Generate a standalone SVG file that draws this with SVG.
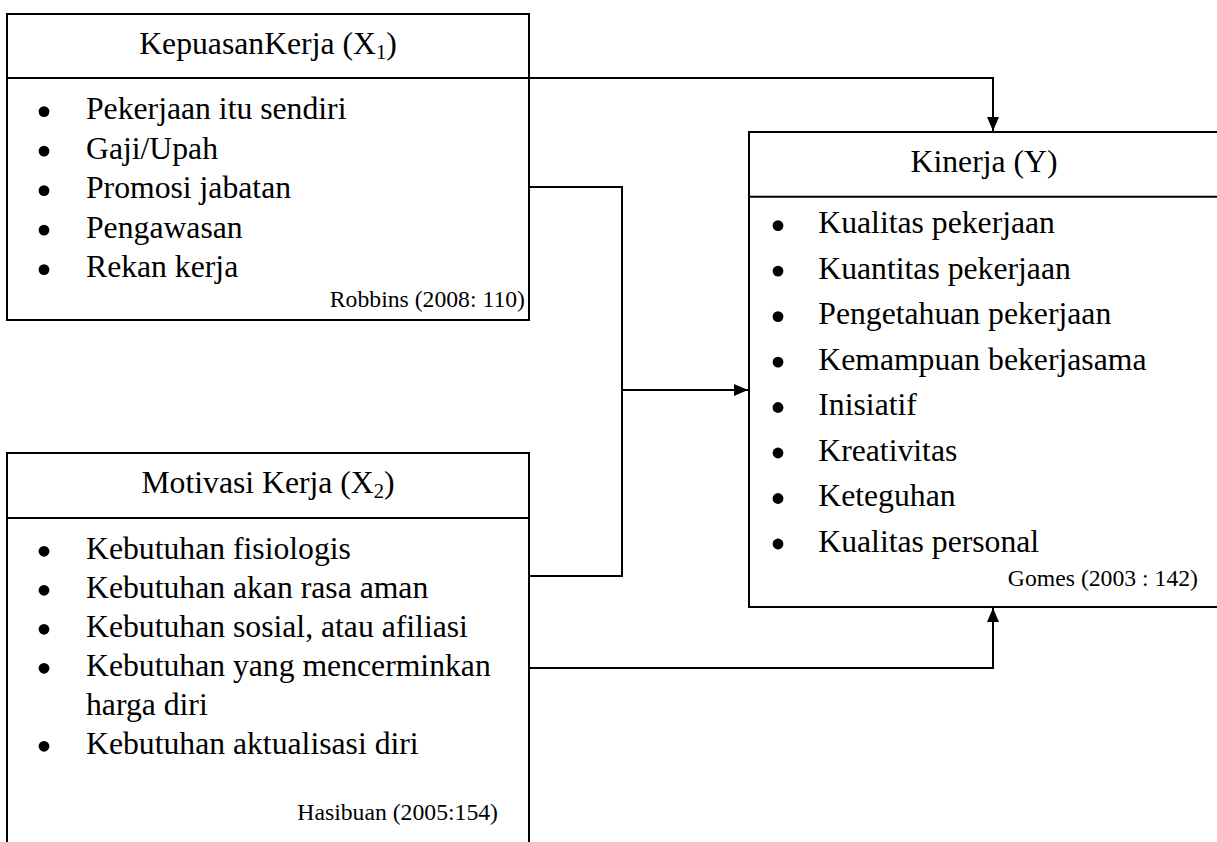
<svg xmlns="http://www.w3.org/2000/svg" width="1217" height="842" viewBox="0 0 1217 842" font-family="Liberation Serif, Times New Roman, serif">
<defs>
<style>
text{font-family:"Liberation Serif","Times New Roman",serif;fill:#000}
.t{font-size:31.7px;text-anchor:middle}
.i{font-size:31.7px}
.c{font-size:23.7px;text-anchor:end}
.sub{font-size:20.6px}
.bl{fill:#000}
.box{fill:#fff;stroke:#000;stroke-width:2}
.sep{stroke:#000;stroke-width:2;fill:none}
.con{stroke:#000;stroke-width:2;fill:none}
</style>
<marker id="ah" viewBox="0 0 14 12" refX="14" refY="6" markerWidth="14" markerHeight="12" markerUnits="userSpaceOnUse" orient="auto">
<path d="M0,0 L14,6 L0,12 Z" fill="#000"/>
</marker>
</defs>
<rect width="1217" height="842" fill="#fff"/>

<g id="connectors">
<path class="con" d="M529,78 H993 V131" marker-end="url(#ah)"/>
<path class="con" d="M529,187 H622 V576 H529"/>
<path class="con" d="M622,390 H748" marker-end="url(#ah)"/>
<path class="con" d="M529,668 H993 V608" marker-end="url(#ah)"/>
</g>

<g id="node-x1">
<rect class="box" x="7" y="14" width="522" height="306"/>
<line class="sep" x1="7" y1="78" x2="529" y2="78"/>
<text class="t" x="268" y="54">KepuasanKerja (X<tspan class="sub" dy="4.5">1</tspan><tspan dy="-4.5">)</tspan></text>
<g class="bl">
<circle cx="44" cy="111.6" r="5.4"/>
<circle cx="44" cy="151.1" r="5.4"/>
<circle cx="44" cy="190.6" r="5.4"/>
<circle cx="44" cy="230.1" r="5.4"/>
<circle cx="44" cy="269.6" r="5.4"/>
</g>
<text class="i" x="86" y="119.3">Pekerjaan itu sendiri</text>
<text class="i" x="86" y="158.8">Gaji/Upah</text>
<text class="i" x="86" y="198.3">Promosi jabatan</text>
<text class="i" x="86" y="237.8">Pengawasan</text>
<text class="i" x="86" y="277.3">Rekan kerja</text>
<text class="c" x="525" y="307">Robbins (2008: 110)</text>
</g>

<g id="node-x2">
<rect class="box" x="7" y="453" width="522" height="400"/>
<line class="sep" x1="7" y1="518" x2="529" y2="518"/>
<text class="t" x="268" y="493">Motivasi Kerja (X<tspan class="sub" dy="4.5">2</tspan><tspan dy="-4.5">)</tspan></text>
<g class="bl">
<circle cx="44" cy="551.3" r="5.4"/>
<circle cx="44" cy="590.3" r="5.4"/>
<circle cx="44" cy="629.3" r="5.4"/>
<circle cx="44" cy="668.3" r="5.4"/>
<circle cx="44" cy="746.3" r="5.4"/>
</g>
<text class="i" x="86" y="559">Kebutuhan fisiologis</text>
<text class="i" x="86" y="598">Kebutuhan akan rasa aman</text>
<text class="i" x="86" y="637">Kebutuhan sosial, atau afiliasi</text>
<text class="i" x="86" y="676">Kebutuhan yang mencerminkan</text>
<text class="i" x="86" y="715">harga diri</text>
<text class="i" x="86" y="754">Kebutuhan aktualisasi diri</text>
<text class="c" x="498" y="820">Hasibuan (2005:154)</text>
</g>

<g id="node-y">
<rect class="box" x="749" y="132" width="470" height="475"/>
<line class="sep" x1="749" y1="196.7" x2="1219" y2="196.7"/>
<text class="t" x="984" y="171.7">Kinerja (Y)</text>
<g class="bl">
<circle cx="778" cy="225.6" r="5.4"/>
<circle cx="778" cy="271.1" r="5.4"/>
<circle cx="778" cy="316.6" r="5.4"/>
<circle cx="778" cy="362.1" r="5.4"/>
<circle cx="778" cy="407.5" r="5.4"/>
<circle cx="778" cy="453" r="5.4"/>
<circle cx="778" cy="498.5" r="5.4"/>
<circle cx="778" cy="544" r="5.4"/>
</g>
<text class="i" x="818.3" y="233.3">Kualitas pekerjaan</text>
<text class="i" x="818.3" y="278.8">Kuantitas pekerjaan</text>
<text class="i" x="818.3" y="324.3">Pengetahuan pekerjaan</text>
<text class="i" x="818.3" y="369.8">Kemampuan bekerjasama</text>
<text class="i" x="818.3" y="415.2">Inisiatif</text>
<text class="i" x="818.3" y="460.7">Kreativitas</text>
<text class="i" x="818.3" y="506.2">Keteguhan</text>
<text class="i" x="818.3" y="551.7">Kualitas personal</text>
<text class="c" x="1198" y="586">Gomes (2003 : 142)</text>
</g>
</svg>
